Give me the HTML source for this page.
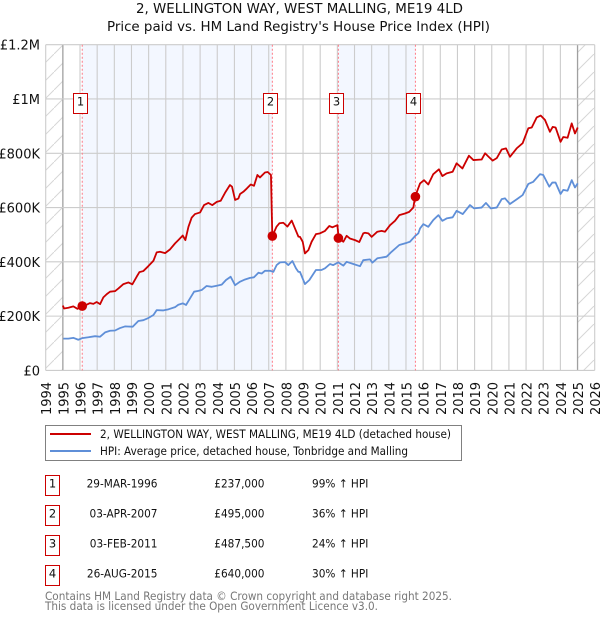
<!DOCTYPE html>
<html lang="en">
<head>
<meta charset="utf-8">
<title>2, WELLINGTON WAY, WEST MALLING, ME19 4LD</title>
<style>
html,body{margin:0;padding:0;background:#fff;width:600px;height:620px;overflow:hidden}
svg{display:block;font-family:"DejaVu Sans",sans-serif}
</style>
</head>
<body>
<svg id="chart" width="600" height="620" viewBox="0 0 600 620" xmlns="http://www.w3.org/2000/svg">
<defs>
<pattern id="hatch" width="18" height="18" patternUnits="userSpaceOnUse">
<line x1="0" y1="18" x2="18" y2="0" stroke="#d6d6d6" stroke-width="1"/>
</pattern>
</defs>
<text x="299.5" y="13" text-anchor="middle" font-size="13" textLength="327" lengthAdjust="spacingAndGlyphs" fill="#111">2, WELLINGTON WAY, WEST MALLING, ME19 4LD</text>
<text x="298.5" y="31" text-anchor="middle" font-size="13" textLength="383" lengthAdjust="spacingAndGlyphs" fill="#111">Price paid vs. HM Land Registry's House Price Index (HPI)</text>
<g id="bands"></g>
<g id="grid"></g>
<g id="saleLines"></g>
<g id="series"></g>
<g id="saleMarks"></g>
<g id="axisLabels"></g>

<rect x="45.5" y="425.5" width="416" height="35" fill="#fff" stroke="#808080" stroke-width="1"/>
<line x1="50" x2="91" y1="434" y2="434" stroke="#cc0000" stroke-width="2"/>
<text x="100" y="438" font-size="11.5" textLength="351" lengthAdjust="spacingAndGlyphs" fill="#111">2, WELLINGTON WAY, WEST MALLING, ME19 4LD (detached house)</text>
<line x1="50" x2="91" y1="451" y2="451" stroke="#5f8fd8" stroke-width="2"/>
<text x="100" y="455" font-size="11.5" textLength="308" lengthAdjust="spacingAndGlyphs" fill="#111">HPI: Average price, detached house, Tonbridge and Malling</text>

<g id="saleTable" font-size="11.5" fill="#111"></g>

<text x="45" y="600" font-size="11.5" textLength="407" lengthAdjust="spacingAndGlyphs" fill="#777">Contains HM Land Registry data © Crown copyright and database right 2025.</text>
<text x="45" y="610" font-size="11.5" textLength="333" lengthAdjust="spacingAndGlyphs" fill="#777">This data is licensed under the Open Government Licence v3.0.</text>
</svg>
<script>
const yearTicks = [1994,1995,1996,1997,1998,1999,2000,2001,2002,2003,2004,2005,2006,2007,2008,2009,2010,2011,2012,2013,2014,2015,2016,2017,2018,2019,2020,2021,2022,2023,2024,2025,2026];
const valueTicks = [0,200,400,600,800,1000,1200];
const valueTickLabels = ['£0','£200K','£400K','£600K','£800K','£1M','£1.2M'];
const priceDates = [1995.0,1995.07,1995.32,1995.61,1995.85,1996.13,1996.39,1996.58,1996.78,1996.97,1997.17,1997.36,1997.56,1997.75,1998.04,1998.24,1998.53,1998.82,1999.05,1999.30,1999.46,1999.69,1999.98,2000.28,2000.47,2000.66,2000.96,2001.25,2001.54,2001.73,2001.99,2002.14,2002.32,2002.51,2002.70,2003.0,2003.23,2003.48,2003.71,2003.97,2004.20,2004.45,2004.74,2004.86,2005.04,2005.23,2005.33,2005.52,2005.72,2005.95,2006.14,2006.34,2006.49,2006.78,2006.94,2007.13,2007.17,2007.21,2007.46,2007.62,2007.85,2008.09,2008.34,2008.53,2008.73,2008.82,2008.98,2009.11,2009.31,2009.50,2009.75,2009.99,2010.28,2010.53,2010.71,2011.0,2011.05,2011.09,2011.35,2011.54,2011.73,2012.03,2012.28,2012.51,2012.61,2012.81,2013.0,2013.33,2013.58,2013.78,2014.07,2014.36,2014.61,2014.94,2015.19,2015.43,2015.53,2015.82,2016.05,2016.30,2016.59,2016.92,2017.12,2017.37,2017.72,2017.95,2018.29,2018.67,2018.93,2019.41,2019.61,2019.80,2020.05,2020.29,2020.58,2020.83,2021.06,2021.45,2021.80,2022.13,2022.33,2022.62,2022.85,2023.10,2023.39,2023.55,2023.72,2024.01,2024.17,2024.42,2024.66,2024.85,2025.01];
const priceValues = [239,228,231,236,227,237,242,248,245,252,244,269,281,290,292,302,318,324,317,345,362,366,384,404,435,437,432,446,468,480,497,480,529,563,576,582,609,617,609,621,625,654,683,677,628,633,650,658,670,685,680,720,711,729,731,720,600,495,530,542,544,530,552,523,493,492,474,431,443,474,502,505,514,532,527,535,505,487,474,496,486,480,473,505,507,505,492,511,514,511,535,551,572,578,584,600,640,689,701,685,723,741,716,726,732,763,744,791,775,777,800,788,773,782,814,818,787,818,837,892,895,932,939,923,879,897,895,842,860,857,910,873,895];
const hpiDates = [1995.03,1995.32,1995.61,1995.90,1996.14,1996.49,1996.88,1997.17,1997.46,1997.75,1998.04,1998.33,1998.62,1999.07,1999.40,1999.69,1999.98,2000.28,2000.47,2000.86,2001.15,2001.54,2001.73,2001.99,2002.18,2002.41,2002.65,2002.90,2003.09,2003.38,2003.68,2003.97,2004.26,2004.51,2004.78,2005.04,2005.33,2005.62,2005.91,2006.14,2006.40,2006.59,2006.78,2007.08,2007.27,2007.46,2007.66,2007.95,2008.14,2008.38,2008.59,2008.73,2008.82,2009.11,2009.37,2009.75,2010.08,2010.28,2010.57,2010.76,2011.05,2011.35,2011.54,2011.93,2012.32,2012.51,2012.90,2013.04,2013.33,2013.87,2014.16,2014.61,2015.04,2015.23,2015.53,2015.72,2015.82,2016.01,2016.30,2016.59,2016.89,2017.12,2017.37,2017.72,2017.95,2018.31,2018.73,2018.96,2019.41,2019.66,2019.94,2020.29,2020.58,2020.77,2021.06,2021.45,2021.80,2022.13,2022.42,2022.81,2023.0,2023.35,2023.53,2023.72,2024.01,2024.17,2024.42,2024.66,2024.85,2025.01];
const hpiValues = [117,117,120,113,119,122,126,124,140,146,147,156,162,161,182,185,193,204,222,221,225,233,242,247,241,265,290,293,296,311,308,312,316,333,345,314,327,335,341,343,360,357,367,367,363,388,398,399,388,403,376,363,363,318,333,370,370,376,392,388,398,386,400,392,384,406,409,397,413,419,437,462,470,474,495,505,523,539,529,554,572,551,560,564,588,576,609,597,600,617,597,600,631,634,613,630,646,687,695,723,720,677,692,692,650,665,662,701,674,689];
const saleNumbers = ['1','2','3','4'];
const saleDates = [1996.13,2007.21,2011.06,2015.55];
const saleValues = [237,495,487.5,640];
const saleDateLabels = ['29-MAR-1996','03-APR-2007','03-FEB-2011','26-AUG-2015'];
const salePriceLabels = ['£237,000','£495,000','£487,500','£640,000'];
const saleHpiLabels = ['99% ↑ HPI','36% ↑ HPI','24% ↑ HPI','30% ↑ HPI'];

const NS = 'http://www.w3.org/2000/svg';
const X0 = 45.7, X1 = 594.7, Y0 = 370.4, Y1 = 44.7;
function xAt(year){ return X0 + (year - 1994) * (X1 - X0) / 32; }
function yAt(val){ return Y0 - val * (Y0 - Y1) / 1200; }
function mk(parent, tag, attrs, text){
  const el = document.createElementNS(NS, tag);
  for (const k in attrs) el.setAttribute(k, attrs[k]);
  if (text !== undefined) el.textContent = text;
  parent.appendChild(el);
  return el;
}
function narrow(el){
  el.setAttribute('textLength', (el.getComputedTextLength() * 0.915).toFixed(1));
  el.setAttribute('lengthAdjust', 'spacingAndGlyphs');
}
const bands = document.getElementById('bands');
const grid = document.getElementById('grid');
const saleLines = document.getElementById('saleLines');
const series = document.getElementById('series');
const saleMarks = document.getElementById('saleMarks');
const axisLabels = document.getElementById('axisLabels');
const saleTable = document.getElementById('saleTable');

// shaded periods between sales
[[0,1],[2,3]].forEach(function(p){
  const r = mk(bands,'rect',{x:xAt(saleDates[p[0]]),y:Y1,width:xAt(saleDates[p[1]])-xAt(saleDates[p[0]]),height:Y0-Y1,fill:'#f3f7ff'});
  
  
});
// hatched out-of-range areas
[[1994,1995],[2025,2026]].forEach(function(p){
  const r = mk(bands,'rect',{x:xAt(p[0]),y:Y1,width:xAt(p[1])-xAt(p[0]),height:Y0-Y1,fill:'url(#hatch)'});
  
  
});
// gridlines and labels
yearTicks.forEach(function(yr){
  const edge = yr === 1995 || yr === 2025;
  const l = mk(grid,'line',{x1:xAt(yr),x2:xAt(yr),y1:Y1,y2:Y0,stroke:edge?'#a0a0a0':'#cccccc','stroke-width':edge?1.3:1.1});
  
  
  const x = xAt(yr) + 5.5;
  const t = mk(axisLabels,'text',{x:x,y:415,'font-size':13,fill:'#111',transform:'rotate(-90 '+x+' 415)'},String(yr));
  
  
});
valueTicks.forEach(function(v,i){
  const l = mk(grid,'line',{x1:X0,x2:X1,y1:yAt(v),y2:yAt(v),stroke:'#cccccc','stroke-width':1.1});
  
  
  const t = mk(axisLabels,'text',{x:40,y:yAt(v)+5,'font-size':13,fill:'#111','text-anchor':'end'},valueTickLabels[i]);
  
  
});
// sale date lines
saleDates.forEach(function(d){
  const l = mk(saleLines,'line',{x1:xAt(d),x2:xAt(d),y1:Y1,y2:Y0,stroke:'#ff7a85','stroke-width':1,'stroke-dasharray':'2 2'});
  
  
});
// series
function linePoints(xs, vs){
  return xs.map(function(d,i){ return xAt(d).toFixed(2)+','+yAt(vs[i]).toFixed(2); }).join(' ');
}
const hpiLine = mk(series,'polyline',{points:linePoints(hpiDates,hpiValues),fill:'none',stroke:'#5f8fd8','stroke-width':1.8,'stroke-linejoin':'round'});


const priceLine = mk(series,'polyline',{points:linePoints(priceDates,priceValues),fill:'none',stroke:'#cc0000','stroke-width':1.8,'stroke-linejoin':'round'});


// sale markers
saleDates.forEach(function(d,i){
  const c = mk(saleMarks,'circle',{cx:xAt(d),cy:yAt(saleValues[i]),r:4.8,fill:'#cc0000'});
  
  
  const bx = xAt(d) - 9.5;
  const b = mk(saleMarks,'rect',{x:Math.round(bx)+0.5,y:93.5,width:14,height:20,fill:'#fff',stroke:'#cc0000','stroke-width':1});
  
  
  const t = mk(saleMarks,'text',{x:Math.round(bx)+7.5,y:105.5,'font-size':11.5,fill:'#111','text-anchor':'middle'},saleNumbers[i]);
  
  
});
// sale table
saleNumbers.forEach(function(n,i){
  const top = 475.5 + i * 30;
  const base = top + 12;
  const b = mk(saleTable,'rect',{x:45.5,y:top,width:14,height:20,fill:'#fff',stroke:'#cc0000','stroke-width':1});
  
  
  const t0 = mk(saleTable,'text',{x:52.5,y:base,'text-anchor':'middle'},n);
  
  
  const t1 = mk(saleTable,'text',{x:157.5,y:base,'text-anchor':'end'},saleDateLabels[i]);
  
  
  narrow(t1);
  const t2 = mk(saleTable,'text',{x:264.5,y:base,'text-anchor':'end'},salePriceLabels[i]);
  
  
  narrow(t2);
  const t3 = mk(saleTable,'text',{x:312,y:base},saleHpiLabels[i]);
  
  
  narrow(t3);
});
</script>
</body>
</html>
